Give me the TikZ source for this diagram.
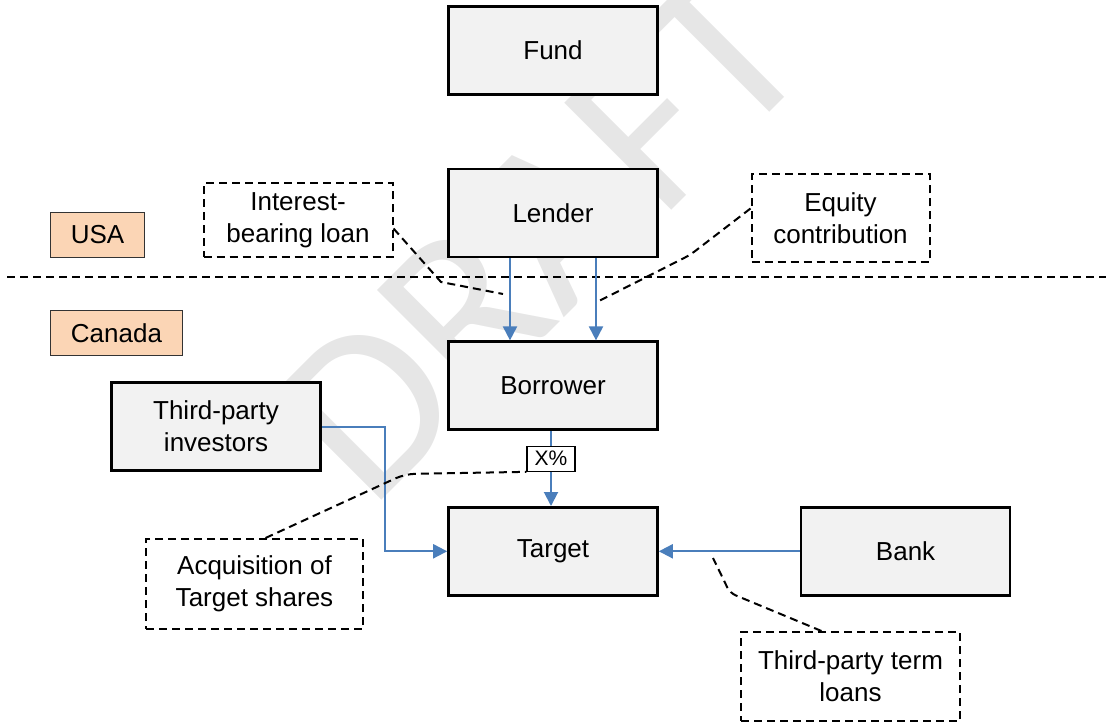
\documentclass[tikz,border=0pt]{standalone}
\usepackage{fontspec}
\setmainfont{Liberation Sans}
\newfontfamily\markfont{Carlito}
\usetikzlibrary{positioning,arrows.meta}
\definecolor{boxgray}{RGB}{242,242,242}
\definecolor{peach}{RGB}{251,213,181}
\definecolor{flowblue}{RGB}{74,126,187}
\definecolor{markgray}{RGB}{230,230,230}
\tikzset{
	entity/.style = {
		draw = black,
		fill = boxgray,
		rectangle,
		line width = 2.6pt,
		align = center,
		inner sep = 0pt,
		minimum height = 88pt,
		minimum width = 209pt,
		font = \fontsize{26}{32}\selectfont
	},
	callout/.style = {
		draw = black,
		rectangle,
		dash pattern = on 8pt off 5pt,
		line width = 2pt,
		align = center,
		inner sep = 0pt,
		font = \fontsize{26}{32}\selectfont
	},
	region/.style = {
		draw = black!80,
		fill = peach,
		rectangle,
		line width = 1.3pt,
		inner sep = 0pt,
		minimum height = 45pt,
		font = \fontsize{26}{32}\selectfont
	},
	share/.style = {
		draw = black,
		fill = white,
		rectangle,
		line width = 1.2pt,
		inner sep = 0pt,
		minimum width = 48pt,
		minimum height = 25pt,
		font = \fontsize{21}{24}\selectfont
	},
	flow/.style = {
		draw = flowblue,
		line width = 2pt,
		-{Triangle[length=14pt,width=14pt]}
	},
	pointer/.style = {
		draw = black,
		line width = 2pt,
		dash pattern = on 8pt off 5pt
	}
}

\begin{document}
\begin{tikzpicture}[x=1pt,y=1pt]
    \useasboundingbox (0,0) rectangle (1106,-727) ;

    % watermark
    \node [anchor = base west, rotate = 45, inner sep = 0pt, text = markgray,
        font = \markfont\fontsize{236}{236}\selectfont] (mark) at (370,-512) {DRAFT} ;

    % border between the two countries
    \coordinate (border w) at (7,-277) ;
    \coordinate (border e) at (1106,-277) ;
    \draw [pointer] (border w) -- (border e) ;

    \node [region, minimum width = 94pt] (usa) at (97.5,-235) {USA} ;
    \node [region, minimum width = 132pt] (canada) at (116.5,-333) {Canada} ;

    % entities
    \node [entity] (fund) at (553,-50.5) {Fund} ;
    \node [entity, below = 72pt of fund] (lender) {Lender} ;
    \node [entity, below = 82pt of lender] (borrower) {Borrower} ;
    \node [entity, below = 75pt of borrower] (target) {Target} ;
    \node [entity, right = 141pt of target] (bank) {Bank} ;
    \node [entity] (investors) at (216,-426.5) {Third-party\\investors} ;

    % explanations
    \node [callout, minimum width = 189pt, minimum height = 74pt] (interest) at (298,-220.5) {Interest-\\bearing loan} ;
    \node [callout, minimum width = 178pt, minimum height = 88pt] (equity) at (840.5,-218.5) {Equity\\contribution} ;
    \node [callout, minimum width = 217pt, minimum height = 90pt] (acquisition) at (254.5,-584) {Acquisition of\\Target shares} ;
    \node [callout, minimum width = 219pt, minimum height = 89pt] (termloans) at (850.5,-676.5) {Third-party term\\loans} ;

    % flows
    \draw [flow] ([xshift = -43pt]lender.south) -- ([xshift = -43pt]borrower.north) ;
    \draw [flow] ([xshift = 43pt]lender.south) -- ([xshift = 43pt]borrower.north) ;
    \draw [flow] ([xshift = -2pt]borrower.south) -- ([xshift = -2pt]target.north) node [share, pos = 0.37] (pct) {X\%} ;
    \draw [flow] (investors.east) -- ++(63,0) |- (target.west) ;
    \draw [flow] (bank.west) -- (target.east) ;

    % pointers from the explanations
    \coordinate (interest tip) at (503,-294) ;
    \coordinate (equity tip) at (597,-302) ;
    \coordinate (termloans tip) at (713,-558) ;
    \draw [pointer] ([yshift = -8pt]interest.east) -- (441,-282) -- (interest tip) ;
    \draw [pointer, rounded corners = 6pt] ([yshift = 10pt]equity.west) -- (690,-255) -- (equity tip) ;
    \draw [pointer, rounded corners = 10pt] ([xshift = 11pt]acquisition.north) -- (405,-474) -- (pct.south west) ;
    \draw [pointer, rounded corners = 6pt] ([xshift = -29pt]termloans.north) -- (730,-593) -- (termloans tip) ;
\end{tikzpicture}
\end{document}
